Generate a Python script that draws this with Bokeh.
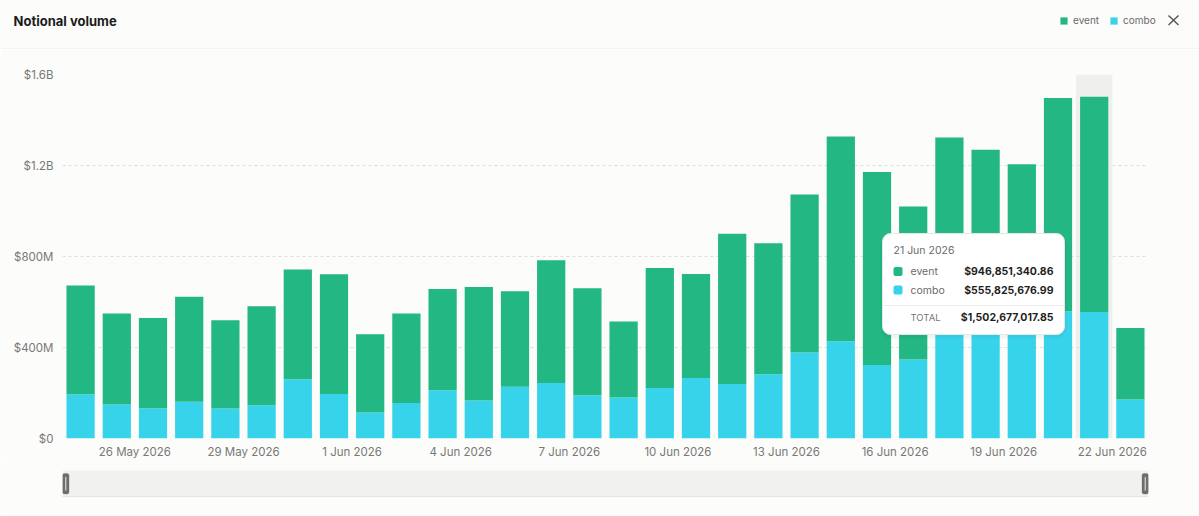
from bokeh.plotting import figure
from bokeh.models import (ColumnDataSource, Range1d, FixedTicker, BoxAnnotation,
                          Label, Legend, LegendItem)
from bokeh.layouts import column
from bokeh.core.properties import value
from bokeh.embed import file_html
from bokeh.resources import INLINE

# ---------------- data ----------------
dates = ["24 May 2026", "25 May 2026", "26 May 2026", "27 May 2026", "28 May 2026",
         "29 May 2026", "30 May 2026", "31 May 2026", "1 Jun 2026", "2 Jun 2026",
         "3 Jun 2026", "4 Jun 2026", "5 Jun 2026", "6 Jun 2026", "7 Jun 2026",
         "8 Jun 2026", "9 Jun 2026", "10 Jun 2026", "11 Jun 2026", "12 Jun 2026",
         "13 Jun 2026", "14 Jun 2026", "15 Jun 2026", "16 Jun 2026", "17 Jun 2026",
         "18 Jun 2026", "19 Jun 2026", "20 Jun 2026", "21 Jun 2026", "22 Jun 2026"]

event = [479e6, 401e6, 397e6, 461e6, 388e6, 435e6, 483e6, 526e6, 344e6, 394e6,
         445e6, 499e6, 420e6, 540e6, 470e6, 334e6, 527e6, 457e6, 660e6, 576e6,
         695e6, 901e6, 848e6, 673e6, 818e6, 749e6, 715e6, 938e6, 946851340.86, 315e6]

combo = [194e6, 149e6, 133e6, 162e6, 132e6, 146e6, 260e6, 196e6, 114e6, 156e6,
         212e6, 167e6, 227e6, 244e6, 190e6, 180e6, 222e6, 266e6, 240e6, 282e6,
         378e6, 427e6, 323e6, 347e6, 505e6, 520e6, 490e6, 559e6, 555825676.99, 171e6]

series_names = ["event", "combo"]

x_tick_labels = ["26 May 2026", "29 May 2026", "1 Jun 2026", "4 Jun 2026", "7 Jun 2026",
                 "10 Jun 2026", "13 Jun 2026", "16 Jun 2026", "19 Jun 2026", "22 Jun 2026"]

y_ticks = [0, 400_000_000, 800_000_000, 1_200_000_000, 1_600_000_000]
y_tick_labels = ["$0", "$400M", "$800M", "$1.2B", "$1.6B"]

chart_title = "Notional volume"
hovered_date = "21 Jun 2026"

# ---------------- style / layout ----------------
W = 1199
HEAD_H, MAIN_H, NAV_H = 49, 413, 54
FL, FR, FT, FB = 62, 1148, 74, 438          # plot frame in page pixels
BG = "#fcfcfb"
GREEN = "#22b783"
CYAN = "#37d3ea"
FONT = "Inter"
AXIS_TXT = "#787876"

n = len(dates)
YMAX = y_ticks[-1]


def dx(px):
    return (px - FL) / (FR - FL) * n


def dy(py):
    return (FB - py) / (FB - FT) * YMAX


def box(l, r, t, b, color, radius=0, line=None):
    return BoxAnnotation(left=dx(l), right=dx(r), top=dy(t), bottom=dy(b),
                         fill_color=color, fill_alpha=1, line_color=line,
                         line_alpha=1 if line else 0, line_width=1, border_radius=radius)


def base_fig(**kw):
    f = figure(toolbar_location=None, output_backend="svg", **kw)
    f.background_fill_color = BG
    f.border_fill_color = BG
    f.outline_line_color = None
    f.frame_align = False
    return f


# ---------------- header ----------------
header = base_fig(width=W, height=HEAD_H, x_range=Range1d(0, W), y_range=Range1d(HEAD_H, 0),
                  x_axis_type=None, y_axis_type=None, min_border=0)
header.xgrid.visible = False
header.ygrid.visible = False
header.text(x=[13], y=[20.5], text=[chart_title], text_font=value(FONT),
            text_font_size="13px", text_font_style="bold", text_color="#1b1b1b",
            text_baseline="middle")
header.segment(x0=[0], y0=[48.5], x1=[W], y1=[48.5], line_color="#ebebe9", line_width=1)
header.segment(x0=[1168, 1168], y0=[15, 24.5], x1=[1178, 1178], y1=[24.5, 15],
               line_color="#555555", line_width=1.4)

# swatch renderers for the legend (placed off-canvas)
r_ev = header.quad(left=[-50], right=[-40], top=[-50], bottom=[-40], fill_color=GREEN,
                   line_color=None)
r_co = header.quad(left=[-50], right=[-40], top=[-50], bottom=[-40], fill_color=CYAN,
                   line_color=None)
legend = Legend(items=[LegendItem(label=series_names[0], renderers=[r_ev]),
                       LegendItem(label=series_names[1], renderers=[r_co])],
                location=(1059, HEAD_H - 26), orientation="horizontal",
                glyph_width=9, glyph_height=9, label_height=9, label_width=10,
                label_standoff=5, spacing=10, padding=0, margin=0,
                label_text_font=FONT, label_text_font_size="10px",
                label_text_color="#6a6a68", border_line_alpha=0,
                background_fill_alpha=0)
header.add_layout(legend, "center")

# ---------------- main chart ----------------
src = ColumnDataSource(dict(x=[i + 0.5 for i in range(n)], event=event, combo=combo,
                            date=dates))

p = base_fig(width=W, height=MAIN_H, x_range=Range1d(0, n), y_range=Range1d(0, YMAX),
             min_border_left=FL, min_border_right=W - FR,
             min_border_top=FT - HEAD_H, min_border_bottom=HEAD_H + MAIN_H - FB)

hi = dates.index(hovered_date)
p.vbar(x=[hi + 0.5], top=[YMAX], bottom=[0], width=1.0, fill_color="#efefed",
       line_color=None, level="underlay")

p.vbar_stack(["combo", "event"], x="x", width=0.78, color=[CYAN, GREEN],
             line_color=None, source=src)

xt = [dates.index(d) for d in x_tick_labels]
p.xaxis.ticker = FixedTicker(ticks=xt)
p.xaxis.major_label_overrides = {t: lab for t, lab in zip(xt, x_tick_labels)}
p.yaxis.ticker = FixedTicker(ticks=y_ticks)
p.yaxis.major_label_overrides = {t: lab for t, lab in zip(y_ticks, y_tick_labels)}
for ax in (p.xaxis[0], p.yaxis[0]):
    ax.axis_line_color = None
    ax.major_tick_line_color = None
    ax.minor_tick_line_color = None
    ax.major_tick_out = 0
    ax.major_tick_in = 0
    ax.minor_tick_out = 0
    ax.major_label_text_font = FONT
    ax.major_label_text_font_size = "11.5px"
    ax.major_label_text_color = AXIS_TXT
p.xaxis.major_label_standoff = 6
p.yaxis.major_label_standoff = 9
p.xgrid.visible = False
p.ygrid.grid_line_color = "#e0e0de"
p.ygrid.grid_line_dash = "3 3"
p.ygrid.grid_line_width = 1

# ---------------- tooltip ----------------
TL, TR, TT, TBm = 882, 1064, 233, 334
p.add_layout(BoxAnnotation(left=dx(TL - 2), right=dx(TR + 2), top=dy(TT), bottom=dy(TBm + 4),
                           fill_color="black", fill_alpha=0.035, line_alpha=0,
                           border_radius=10))
p.add_layout(box(TL, TR, TT, TBm, "white", radius=8, line="#e6e6e4"))
ev_v, co_v = event[hi], combo[hi]
rows = [(series_names[0], GREEN, ev_v, 271), (series_names[1], CYAN, co_v, 289.5)]
p.add_layout(Label(x=dx(893), y=dy(250), text=hovered_date, text_font=FONT,
                   text_font_size="10.5px", text_color="#6a6a68", text_baseline="middle"))
for name, col, v, yy in rows:
    p.add_layout(box(893, 902, yy - 4.5, yy + 4.5, col, radius=2))
    p.add_layout(Label(x=dx(910), y=dy(yy), text=name, text_font=FONT,
                       text_font_size="10.5px", text_color="#6a6a68",
                       text_baseline="middle"))
    p.add_layout(Label(x=dx(1053), y=dy(yy), text=f"${v:,.2f}", text_font=FONT,
                       text_font_size="10.5px", text_color="#1f1f1f",
                       text_font_style="bold", text_baseline="middle", text_align="right"))
p.add_layout(box(TL, TR, 304.5, 305.5, "#ececea"))
p.add_layout(Label(x=dx(910), y=dy(317), text="TOTAL", text_font=FONT,
                   text_font_size="9.5px", text_color="#777775", text_baseline="middle"))
p.add_layout(Label(x=dx(1053), y=dy(317), text=f"${ev_v + co_v:,.2f}", text_font=FONT,
                   text_font_size="10.5px", text_color="#1f1f1f", text_font_style="bold",
                   text_baseline="middle", text_align="right"))

# ---------------- navigator ----------------
nav = base_fig(width=W, height=NAV_H, x_range=p.x_range, y_range=Range1d(NAV_H, 0),
               x_axis_type=None, y_axis_type=None, min_border_left=FL,
               min_border_right=W - FR, min_border_top=0, min_border_bottom=0)
nav.xgrid.visible = False
nav.ygrid.visible = False
nav.quad(left=[0], right=[n], top=[8], bottom=[34], fill_color="#f1f1ef", line_color=None)
nav.segment(x0=[0], y0=[34], x1=[n], y1=[34], line_color="#e4e4e2", line_width=1)
hw = 6.5 / (FR - FL) * n
for l, r in ((0, hw), (n - hw, n)):
    nav.add_layout(BoxAnnotation(left=l, right=r, top=11, bottom=31.5, fill_color="#6e6e6b",
                                 fill_alpha=1, line_color="#5e5e5b", line_width=1,
                                 border_radius=2))
    nav.segment(x0=[(l + r) / 2], y0=[14.5], x1=[(l + r) / 2], y1=[28],
                line_color="#d6d6d3", line_width=1.2, level="overlay")

layout = column(header, p, nav, spacing=0)
open("out.html", "w").write(file_html(layout, INLINE))
